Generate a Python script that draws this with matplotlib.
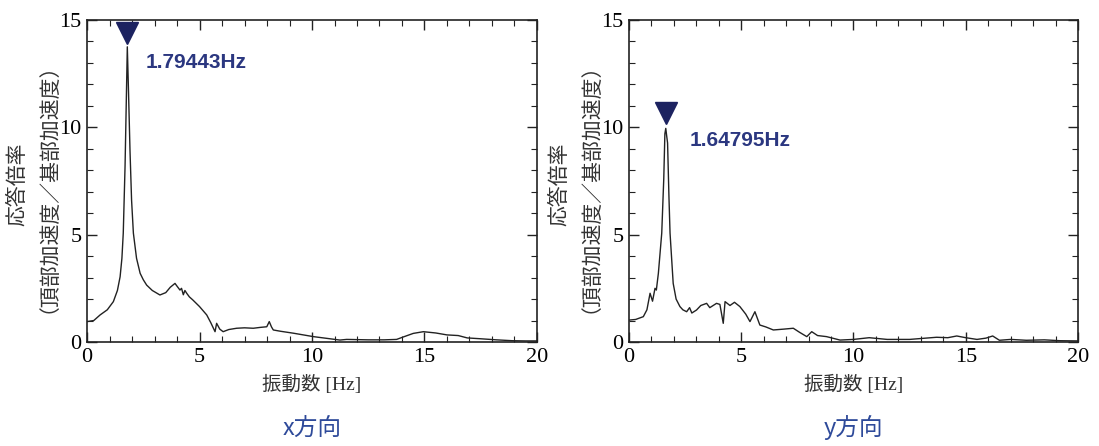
import matplotlib
matplotlib.use("Agg")
import matplotlib.pyplot as plt
from matplotlib.ticker import MultipleLocator

# ---- data ----
freq_x = [0.0, 0.3, 0.58, 0.9, 1.17, 1.35, 1.47, 1.55, 1.61, 1.69, 1.75, 1.79, 1.84, 1.91, 1.98, 2.06,
          2.2, 2.36, 2.5, 2.65, 2.9, 3.24, 3.5, 3.7, 3.91, 4.0, 4.13, 4.2, 4.28, 4.35, 4.43, 4.55,
          4.7, 5.0, 5.32, 5.5, 5.69, 5.76, 5.9, 6.05, 6.3, 6.65, 7.0, 7.39, 7.7, 7.99, 8.1, 8.2,
          8.28, 8.6, 9.17, 10.06, 10.8, 11.24, 11.54, 12.5, 13.2, 13.76, 14.1, 14.5, 14.95, 15.5,
          16.0, 16.5, 16.9, 17.5, 18.2, 18.9, 19.5, 20.0]
resp_x = [0.95, 1.0, 1.26, 1.5, 1.88, 2.4, 3.04, 3.9, 5.07, 8.2, 11.5, 13.75, 11.8, 8.9, 6.6, 5.07,
          3.9, 3.2, 2.9, 2.65, 2.4, 2.19, 2.3, 2.55, 2.73, 2.6, 2.42, 2.5, 2.2, 2.4, 2.27, 2.1,
          1.96, 1.65, 1.26, 0.9, 0.48, 0.87, 0.6, 0.48, 0.58, 0.64, 0.66, 0.64, 0.68, 0.71, 0.95, 0.7,
          0.56, 0.5, 0.41, 0.25, 0.15, 0.09, 0.12, 0.1, 0.1, 0.12, 0.25, 0.4, 0.48, 0.42,
          0.33, 0.3, 0.19, 0.15, 0.1, 0.06, 0.05, 0.05]

freq_y = [0.0, 0.3, 0.64, 0.8, 0.94, 1.05, 1.16, 1.22, 1.31, 1.46, 1.55, 1.6, 1.64, 1.68, 1.72, 1.78,
          1.83, 1.97, 2.1, 2.27, 2.4, 2.57, 2.7, 2.8, 3.01, 3.2, 3.46, 3.6, 3.9, 4.05, 4.2, 4.28,
          4.5, 4.7, 4.94, 5.2, 5.39, 5.61, 5.83, 6.1, 6.43, 6.9, 7.32, 7.6, 7.92, 8.14, 8.4, 8.8,
          9.4, 10.0, 10.7, 11.5, 12.5, 13.7, 14.2, 14.6, 15.0, 15.5, 15.9, 16.2, 16.5, 17.0, 17.7,
          18.5, 19.2, 20.0]
resp_y = [1.02, 1.05, 1.18, 1.5, 2.27, 1.9, 2.5, 2.42, 3.2, 5.07, 7.6, 9.7, 9.95, 9.6, 9.27, 6.8,
          5.07, 2.73, 2.0, 1.65, 1.5, 1.41, 1.6, 1.35, 1.49, 1.7, 1.8, 1.6, 1.8, 1.75, 0.87, 1.88,
          1.7, 1.85, 1.65, 1.3, 0.95, 1.41, 0.79, 0.7, 0.56, 0.6, 0.64, 0.45, 0.25, 0.48, 0.3, 0.25,
          0.09, 0.12, 0.2, 0.12, 0.12, 0.22, 0.2, 0.28, 0.2, 0.12, 0.18, 0.28, 0.08, 0.12, 0.08,
          0.1, 0.06, 0.05]

peak_freq = [1.79443, 1.64795]
marker_y = [14.41, 10.67]
peak_labels = ["1.79443Hz", "1.64795Hz"]
label_pos_x = [2.6, 2.7]
label_pos_y = [13.0, 9.4]
directions = ["x方向", "y方向"]

xlabel = "振動数 [Hz]"
ylabel_1 = "応答倍率"
ylabel_2 = "（頂部加速度／基部加速度）"
x_ticks = [0, 5, 10, 15, 20]
y_ticks = [0, 5, 10, 15]

# ---- figure ----
plt.rcParams['font.family'] = ['Liberation Serif', 'Noto Sans CJK JP']
fig = plt.figure(figsize=(10.99, 4.46), dpi=100)

axes_rects = [[0.0792, 0.2332, 0.4094, 0.722], [0.5723, 0.2332, 0.4086, 0.722]]
series = [(freq_x, resp_x), (freq_y, resp_y)]
navy = "#1c2260"
text_navy = "#2b3780"
dir_col = "#2e4a9a"

for i, rect in enumerate(axes_rects):
    ax = fig.add_axes(rect)
    fx, ry = series[i]
    ax.plot(fx, ry, color="#222222", lw=1.0)
    ax.plot([peak_freq[i]], [marker_y[i]], marker="v", ms=16, color=navy, ls="none",
            clip_on=False, zorder=5)
    ax.text(label_pos_x[i], label_pos_y[i], peak_labels[i], color=text_navy, fontsize=15,
            fontweight="bold", family=["Liberation Sans", "DejaVu Sans"], va="center", ha="left")
    ax.set_xlim(0, 20)
    ax.set_ylim(0, 15)
    ax.set_xticks(x_ticks)
    ax.set_yticks(y_ticks)
    ax.xaxis.set_minor_locator(MultipleLocator(1))
    ax.yaxis.set_minor_locator(MultipleLocator(1))
    ax.tick_params(which="both", direction="in", top=True, right=True, color="#222222")
    ax.tick_params(which="major", length=7, width=1.0, labelsize=16, pad=4)
    ax.tick_params(which="minor", length=4, width=0.8)
    for s in ax.spines.values():
        s.set_linewidth(1.2)
        s.set_color("#222222")
    ax.set_xlabel(xlabel, fontsize=14, labelpad=6, color="#333333")
    # two-line y label
    ax.text(-0.155, 0.49, ylabel_1, transform=ax.transAxes, rotation=90, fontsize=15,
            ha="center", va="center", color="#333333", family=["Noto Sans CJK JP"])
    ax.text(-0.110, 0.51, ylabel_2, transform=ax.transAxes, rotation=90, fontsize=15,
            ha="center", va="center", color="#333333", family=["Noto Sans CJK JP"])
    ax.text(0.5, -0.267, directions[i], transform=ax.transAxes, fontsize=17, ha="center",
            va="center", color=dir_col, family=["Noto Sans CJK JP"])

fig.savefig("out.png", dpi=100)
